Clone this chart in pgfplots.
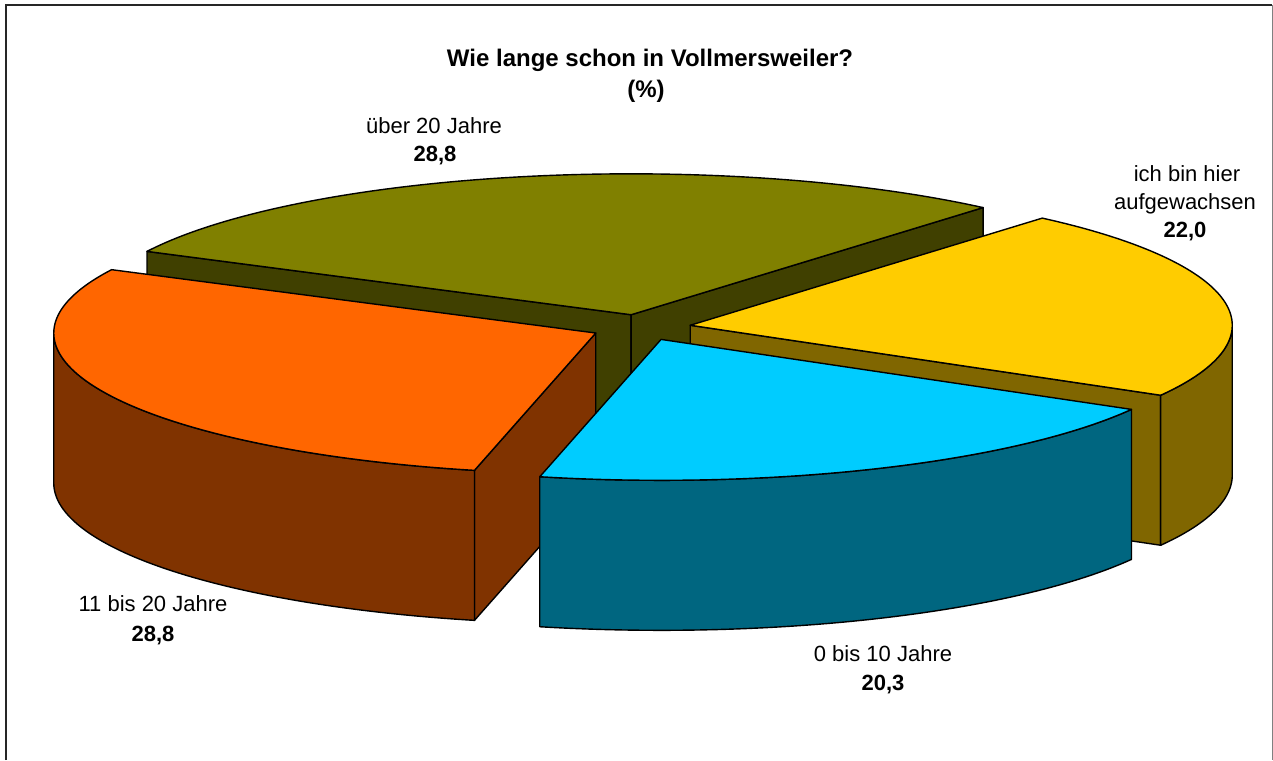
\documentclass[border=0pt]{standalone}
\usepackage{pgfplots}
\pgfplotsset{compat=1.18}
\usepackage{pgfplotstable}
\usepackage{fontspec}
\setmainfont{Liberation Sans}

\definecolor{oliveT}{HTML}{808000}
\definecolor{oliveS}{HTML}{404000}
\definecolor{yelT}{HTML}{FFCC00}
\definecolor{yelS}{HTML}{806600}
\definecolor{bluT}{HTML}{00CCFF}
\definecolor{bluS}{HTML}{006680}
\definecolor{oraT}{HTML}{FF6600}
\definecolor{oraS}{HTML}{803300}

% shares in percent, in the order of the pie (clockwise)
\pgfplotstableread[col sep=comma]{
idx,value
0,22.0
1,20.3
2,28.8
3,28.8
}\piedata

\begin{document}%
\begin{tikzpicture}
\pgfplotstablegetelem{0}{value}\of\piedata \let\vA\pgfplotsretval
\pgfplotstablegetelem{1}{value}\of\piedata \let\vB\pgfplotsretval
\pgfplotstablegetelem{2}{value}\of\piedata \let\vC\pgfplotsretval
\pgfplotstablegetelem{3}{value}\of\piedata \let\vD\pgfplotsretval
\pgfmathsetmacro\tot{\vA+\vB+\vC+\vD}
% geometry (1 unit = 1 px of the reference)
\def\cx{641}\def\cy{-327.5}\def\R{542}\def\k{0.26}\def\h{150}\def\e{50}
\pgfmathsetmacro\Ry{\R*\k}
\pgfmathsetmacro\aA{49.5}
\pgfmathsetmacro\bA{\aA-360*\vA/\tot}
\pgfmathsetmacro\bB{\bA-360*\vB/\tot}
\pgfmathsetmacro\bC{\bB-360*\vC/\tot}
\pgfmathsetmacro\bD{\bC-360*\vD/\tot}
\pgfmathsetmacro\oxA{\cx+\e*cos((\aA+\bA)/2)}\pgfmathsetmacro\oyA{\cy+\e*\k*sin((\aA+\bA)/2)}
\pgfmathsetmacro\oxB{\cx+\e*cos((\bA+\bB)/2)}\pgfmathsetmacro\oyB{\cy+\e*\k*sin((\bA+\bB)/2)}
\pgfmathsetmacro\oxC{\cx+\e*cos((\bB+\bC)/2)}\pgfmathsetmacro\oyC{\cy+\e*\k*sin((\bB+\bC)/2)}
\pgfmathsetmacro\oxD{\cx+\e*cos((\bC+\bD)/2)}\pgfmathsetmacro\oyD{\cy+\e*\k*sin((\bC+\bD)/2)}
\begin{axis}[name=ax,
  width=1273pt, height=760pt, scale only axis,
  xmin=0, xmax=1273, ymin=-760, ymax=0,
  hide axis, clip=false,
  every axis plot/.append style={draw=black, line width=1.4pt, line join=round},
  declare function={
    rf(\t)=min(\t,1)-max(\t-2,0);
    dn(\t)=min(max(\t-1,0),1);
    thc(\t,\l,\u)=\l+(\u-\l)*min(\t,1)-(\u-\l)*min(max(\t-1.1,0),1);
    dyc(\t)=min(max((\t-1)*20,0),1);
    tht(\t,\l,\u)=\l+(\u-\l)*min(\t,1);
    rft(\t)=1-min(max((\t-1)*50,0),1);
  },
]
% ---- olive slice (über 20 Jahre), back
\addplot[fill=oliveS, domain=0:3, samples=4] ({\oxD+\R*cos(\bC)*rf(x)},{\oyD+\Ry*sin(\bC)*rf(x)-\h*dn(x)}) -- cycle;
\addplot[fill=oliveS, domain=0:3, samples=4] ({\oxD+\R*cos(\bD)*rf(x)},{\oyD+\Ry*sin(\bD)*rf(x)-\h*dn(x)}) -- cycle;
\addplot[fill=oliveT, domain=0:1.05, samples=106] ({\oxD+\R*cos(tht(x,\bD,\bC))*rft(x)},{\oyD+\Ry*sin(tht(x,\bD,\bC))*rft(x)}) -- cycle;
% ---- yellow slice (ich bin hier aufgewachsen)
\addplot[fill=yelS, domain=0:3, samples=4] ({\oxA+\R*cos(\bA)*rf(x)},{\oyA+\Ry*sin(\bA)*rf(x)-\h*dn(x)}) -- cycle;
\addplot[fill=yelS, domain=0:2.2, samples=221] ({\oxA+\R*cos(thc(x,\bA,0))},{\oyA+\Ry*sin(thc(x,\bA,0))-\h*dyc(x)}) -- cycle;
\addplot[fill=yelT, domain=0:1.05, samples=106] ({\oxA+\R*cos(tht(x,\bA,\aA))*rft(x)},{\oyA+\Ry*sin(tht(x,\bA,\aA))*rft(x)}) -- cycle;
% ---- orange slice (11 bis 20 Jahre)
\addplot[fill=oraS, domain=0:3, samples=4] ({\oxC+\R*cos(\bB)*rf(x)},{\oyC+\Ry*sin(\bB)*rf(x)-\h*dn(x)}) -- cycle;
\addplot[fill=oraS, domain=0:2.2, samples=221] ({\oxC+\R*cos(thc(x,-180,\bB))},{\oyC+\Ry*sin(thc(x,-180,\bB))-\h*dyc(x)}) -- cycle;
\addplot[fill=oraT, domain=0:1.05, samples=106] ({\oxC+\R*cos(tht(x,\bC,\bB))*rft(x)},{\oyC+\Ry*sin(tht(x,\bC,\bB))*rft(x)}) -- cycle;
% ---- blue slice (0 bis 10 Jahre), front
\addplot[fill=bluS, domain=0:2.2, samples=221] ({\oxB+\R*cos(thc(x,\bB,\bA))},{\oyB+\Ry*sin(thc(x,\bB,\bA))-\h*dyc(x)}) -- cycle;
\addplot[fill=bluT, domain=0:1.05, samples=106] ({\oxB+\R*cos(tht(x,\bB,\bA))*rft(x)},{\oyB+\Ry*sin(tht(x,\bB,\bA))*rft(x)}) -- cycle;
% ---- frame
\draw[line width=2pt, black!85] (axis cs:6,-760) -- (axis cs:6,-5) -- (axis cs:1272,-5);
\draw[line width=1pt, black!50] (axis cs:1272,-5) -- (axis cs:1272,-760);
% ---- texts
\pgfkeys{/pgf/number format/.cd, fixed, fixed zerofill, precision=1, use comma, assume math mode=true}
\node[anchor=base, font=\fontsize{24}{28}\selectfont\bfseries] at (axis cs:650,-67) {Wie lange schon in Vollmersweiler?};
\node[anchor=base, font=\fontsize{24}{28}\selectfont\bfseries] at (axis cs:646,-98) {(\%)};
\node[anchor=base, font=\fontsize{22}{26}\selectfont] at (axis cs:434,-134) {über 20 Jahre};
\node[anchor=base, font=\fontsize{22}{26}\selectfont\bfseries] at (axis cs:435,-162) {\pgfmathprintnumber{\vD}};
\node[anchor=base, font=\fontsize{22}{26}\selectfont] at (axis cs:1187,-182) {ich bin hier};
\node[anchor=base, font=\fontsize{22}{26}\selectfont] at (axis cs:1185,-210) {aufgewachsen};
\node[anchor=base, font=\fontsize{22}{26}\selectfont\bfseries] at (axis cs:1185,-238) {\pgfmathprintnumber{\vA}};
\node[anchor=base, font=\fontsize{22}{26}\selectfont] at (axis cs:153,-612) {11 bis 20 Jahre};
\node[anchor=base, font=\fontsize{22}{26}\selectfont\bfseries] at (axis cs:153,-642) {\pgfmathprintnumber{\vC}};
\node[anchor=base, font=\fontsize{22}{26}\selectfont] at (axis cs:883,-662) {0 bis 10 Jahre};
\node[anchor=base, font=\fontsize{22}{26}\selectfont\bfseries] at (axis cs:883,-691) {\pgfmathprintnumber{\vB}};
\end{axis}
\pgfresetboundingbox
\path (ax.south west) rectangle (ax.north east);
\end{tikzpicture}%
\end{document}
